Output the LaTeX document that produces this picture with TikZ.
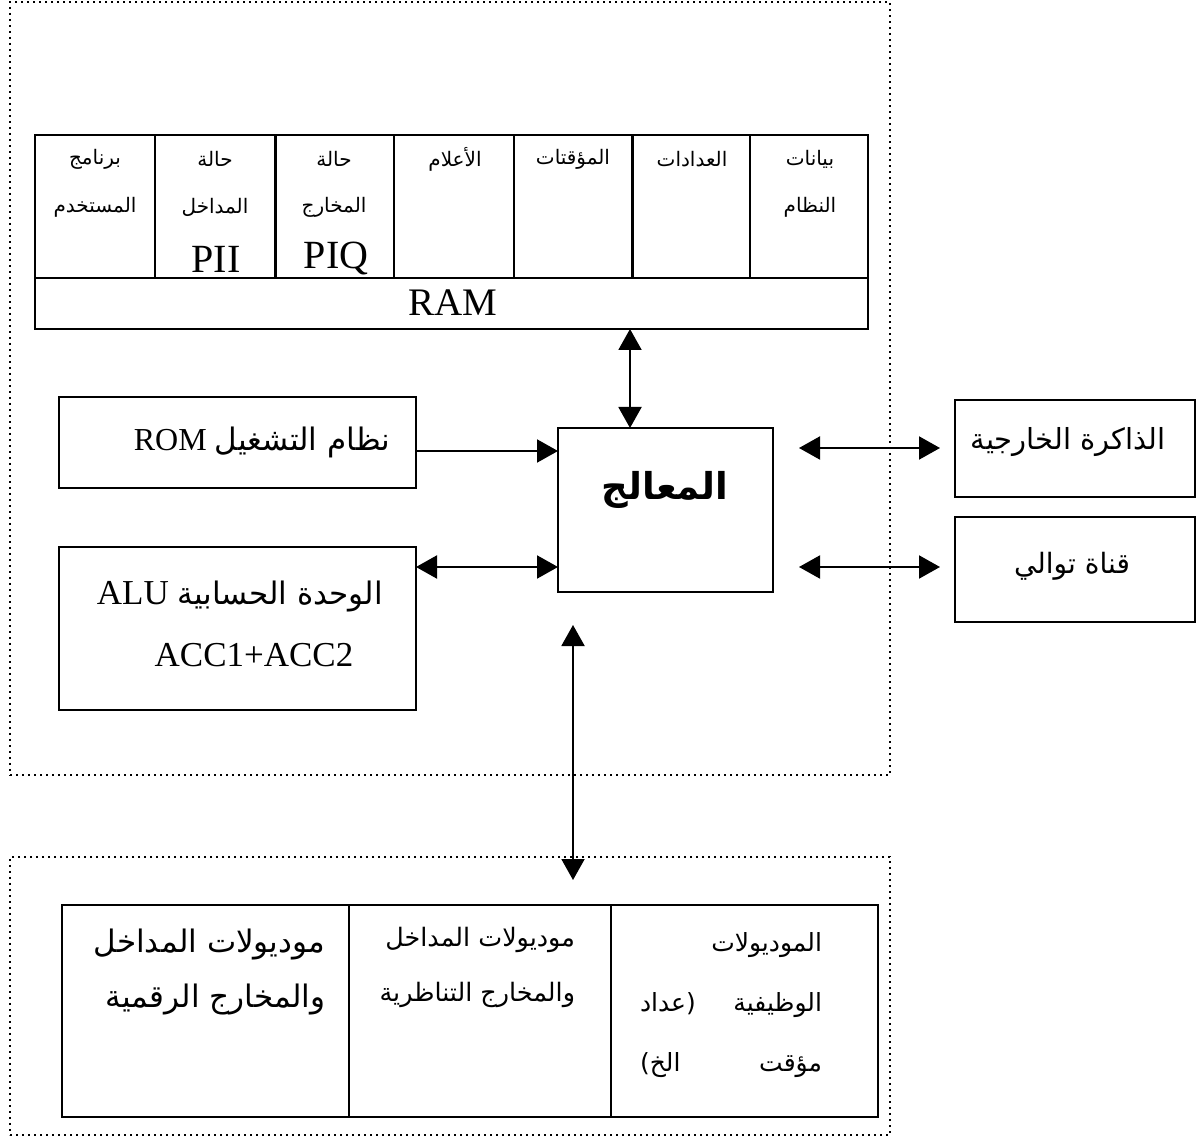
\documentclass[tikz,border=0pt]{standalone}
\usepackage{fontspec}
\setmainfont{Liberation Serif}
\newfontfamily\arabicfont[Script=Arabic]{DejaVu Sans}
\TeXXeTstate=1
\usetikzlibrary{arrows.meta}
\newcommand{\ar}[1]{{\arabicfont\beginR #1\endR}}
\newcommand{\fs}[1]{\fontsize{#1}{#1}\selectfont}
\begin{document}
\begin{tikzpicture}[x=0.5pt,y=-0.5pt,
  box/.style={draw, line width=1pt, inner sep=0pt, outer sep=0pt},
  dotbox/.style={draw, line width=1.1pt, dash pattern=on 1.1pt off 1.9pt},
  lbl/.style={inner sep=0pt, outer sep=0pt},
  conn/.style={line width=1pt},
  both/.style={conn, {Triangle[length=10.5pt,width=11.5pt]}-{Triangle[length=10.5pt,width=11.5pt]}},
  one/.style={conn, -{Triangle[length=10.5pt,width=11.5pt]}},
  celltxt/.style={lbl, font=\fs{10}},
  lat/.style={lbl, font=\fs{20}}]
\useasboundingbox (0,0) rectangle (1199,1138);

% dotted frames
\node[dotbox, box, minimum width=440pt, minimum height=386.5pt] (cpu) at (450,388.5) {};
\node[dotbox, box, minimum width=440pt, minimum height=139pt] (io) at (450,996) {};

% memory cells
\node[box, minimum width=60pt, minimum height=71.5pt] (c1) at (95,206.5) {};
\node[box, minimum width=60pt, minimum height=71.5pt] (c2) at (215,206.5) {};
\node[box, minimum width=59pt, minimum height=71.5pt] (c3) at (334.5,206.5) {};
\node[box, minimum width=60pt, minimum height=71.5pt] (c4) at (453.5,206.5) {};
\node[box, minimum width=59.5pt, minimum height=71.5pt] (c5) at (573,206.5) {};
\node[box, minimum width=59pt, minimum height=71.5pt] (c6) at (691,206.5) {};
\node[box, minimum width=59pt, minimum height=71.5pt] (c7) at (809,206.5) {};
\node[box, minimum width=416.5pt, minimum height=25.5pt] (ram) at (451.5,303.5) {};
\node[lat, font=\fs{19.5}] (ramt) at (453,303) {RAM};

\node[celltxt] (c1a) at (95,159) {\ar{برنامج}};
\node[celltxt] (c1b) at (95,207) {\ar{المستخدم}};
\node[celltxt] (c2a) at (215,159) {\ar{حالة}};
\node[celltxt] (c2b) at (215,207) {\ar{المداخل}};
\node[lat] (c2c) at (216,259) {PII};
\node[celltxt] (c3a) at (334,159) {\ar{حالة}};
\node[celltxt] (c3b) at (334,207) {\ar{المخارج}};
\node[lat] (c3c) at (336,259) {PIQ};
\node[celltxt] (c4a) at (455,159) {\ar{الأعلام}};
\node[celltxt] (c5a) at (573,159) {\ar{المؤقتات}};
\node[celltxt] (c6a) at (692,159) {\ar{العدادات}};
\node[celltxt] (c7a) at (810,159) {\ar{بيانات}};
\node[celltxt] (c7b) at (810,207) {\ar{النظام}};

% processor
\node[box, minimum width=107.5pt, minimum height=82pt] (proc) at (665.5,510) {};
\node[lbl, font=\fs{18.5}\bfseries] (proct) at (665,490) {\ar{المعالج}};

% ROM
\node[box, minimum width=178.5pt, minimum height=45.5pt] (rom) at (237.5,442.5) {};
\node[lbl] (romt) at (262,442) {\fs{16}\beginR{\arabicfont\fs{15.5}نظام التشغيل} \beginL ROM\endL\endR};

% ALU
\node[box, minimum width=178.5pt, minimum height=81.5pt] (alu) at (237.5,628.5) {};
\node[lbl] (alut) at (240,597) {\fs{17.5}\beginR{\arabicfont\fs{15.5}الوحدة الحسابية} \beginL ALU\endL\endR};
\node[lat, font=\fs{17.5}] (acc) at (254,655) {ACC1+ACC2};

% external memory, serial
\node[box, minimum width=120pt, minimum height=48.5pt] (ext) at (1075,448.5) {};
\node[lbl, font=\fs{14.5}] (extt) at (1068,442) {\ar{الذاكرة الخارجية}};
\node[box, minimum width=120pt, minimum height=52.5pt] (ser) at (1075,569.5) {};
\node[lbl, font=\fs{14}] (sert) at (1072,566) {\ar{قناة توالي}};

% io modules
\node[box, minimum width=143.5pt, minimum height=106pt] (m1) at (205.5,1011) {};
\node[box, minimum width=131pt, minimum height=106pt] (m2) at (480,1011) {};
\node[box, minimum width=133.5pt, minimum height=106pt] (m3) at (744.5,1011) {};
\node[lbl, font=\fs{15.5}, anchor=east] (m1a) at (325,945) {\ar{موديولات المداخل}};
\node[lbl, font=\fs{15.5}, anchor=east] (m1b) at (325,1000) {\ar{والمخارج الرقمية}};
\node[lbl, font=\fs{12.7}, anchor=east] (m2a) at (575,940) {\ar{موديولات المداخل}};
\node[lbl, font=\fs{12.7}, anchor=east] (m2b) at (575,995) {\ar{والمخارج التناظرية}};
\node[lbl, font=\fs{12.5}, anchor=east] (m3a) at (822,945) {\ar{الموديولات}};
\node[lbl, font=\fs{12.5}, anchor=east] (m3b) at (822,1005) {\arabicfont\hbox to 91pt{\beginR الوظيفية\hfill (عداد\endR}};
\node[lbl, font=\fs{12.5}, anchor=east] (m3c) at (822,1065) {\arabicfont\hbox to 91pt{\beginR مؤقت\hfill الخ)\endR}};

% connectors
\coordinate (cx) at (630,0);
\coordinate (vtop) at (573,625);
\coordinate (vbot) at (573,880);
\coordinate (ry1) at (0,451);
\coordinate (ry2) at (0,448);
\coordinate (ry3) at (0,567);
\coordinate (lx) at (799,0);
\coordinate (rx) at (940,0);

\draw[both] (ram.south -| cx) -- (proc.north -| cx);
\draw[one] (rom.east |- ry1) -- (proc.west |- ry1);
\draw[both] (alu.east |- ry3) -- (proc.west |- ry3);
\draw[both] (lx |- ry2) -- (rx |- ry2);
\draw[both] (lx |- ry3) -- (rx |- ry3);
\draw[both] (vtop) -- (vbot);
\end{tikzpicture}
\end{document}
